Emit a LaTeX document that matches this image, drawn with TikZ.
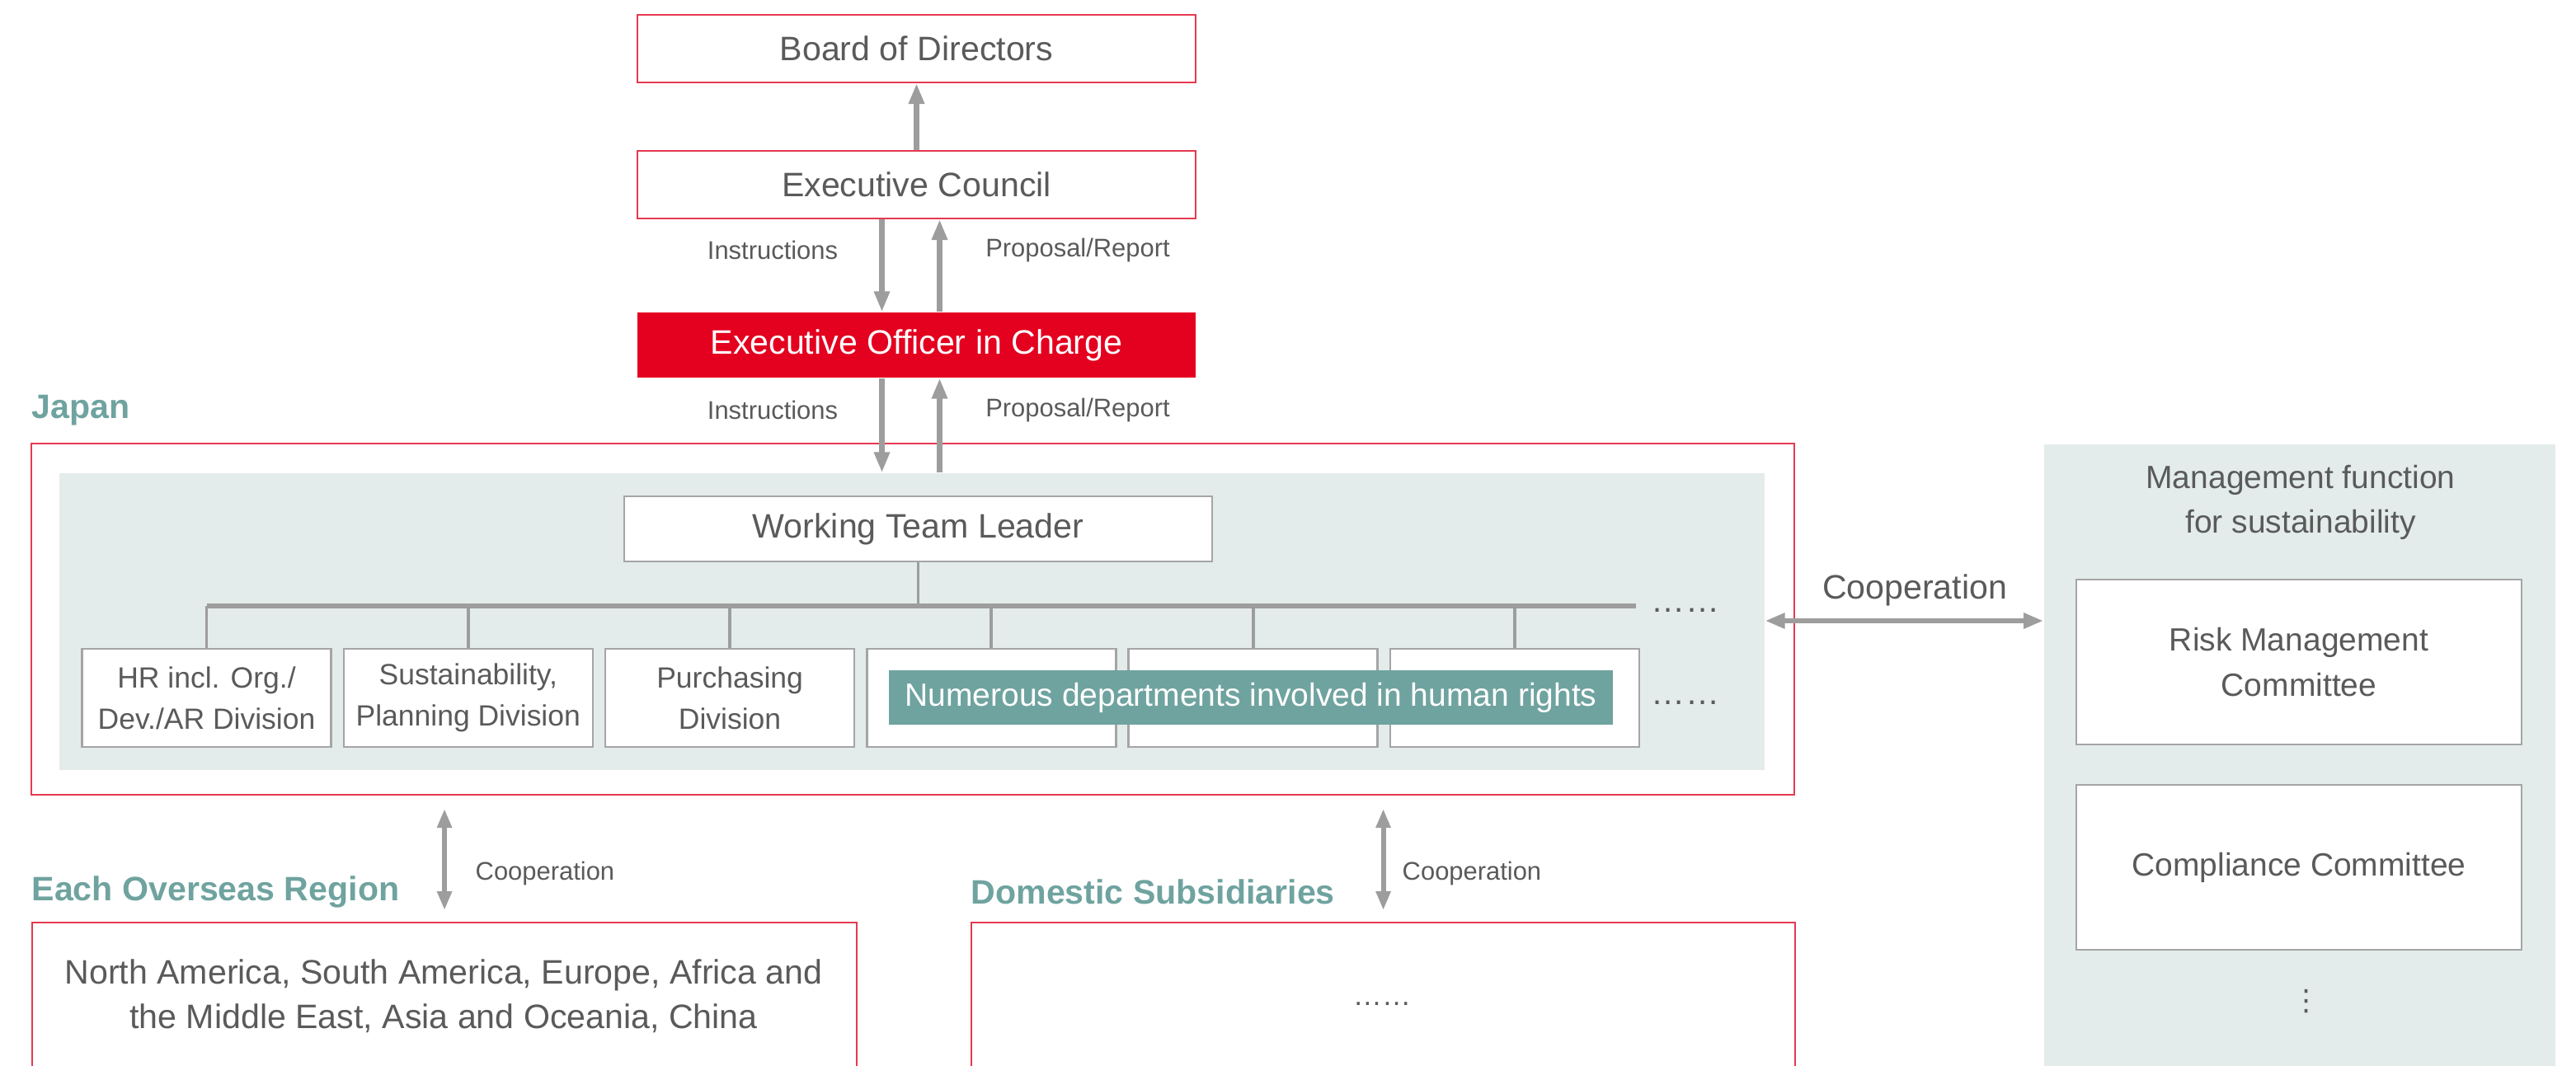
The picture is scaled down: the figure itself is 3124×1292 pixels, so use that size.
\documentclass[tikz,border=0pt]{standalone}
\usepackage{fontspec}
\setmainfont{Liberation Sans}
\newfontfamily\dvs{DejaVu Sans}
\usetikzlibrary{arrows.meta}
\definecolor{redfill}{HTML}{E4001F}
\definecolor{redline}{HTML}{E53950}
\definecolor{panel}{HTML}{E3ECEB}
\definecolor{teal}{HTML}{6FA39F}
\definecolor{arrgray}{HTML}{9D9D9D}
\definecolor{boxgray}{HTML}{A5A5A5}
\definecolor{txt}{HTML}{5A5A5A}
\newcommand\fmain{\fontsize{11.7pt}{15.4pt}\selectfont}
\newcommand\fdiv{\fontsize{10.1pt}{14.2pt}\selectfont}
\newcommand\fmid{\fontsize{11.1pt}{15.4pt}\selectfont}
\newcommand\fsmall{\fontsize{8.8pt}{11pt}\selectfont}
\begin{document}
\begin{tikzpicture}[x=0.1mm,y=-0.1mm,
  redbox/.style={draw=redline,line width=0.6pt,fill=white,text=txt,inner sep=0pt,align=center,font=\fmain},
  graybox/.style={draw=boxgray,line width=0.7pt,fill=white,text=txt,inner sep=0pt,align=center},
  arr/.style={draw=arrgray,line width=1.9pt,-{Triangle[length=2.5mm,width=1.8mm]}},
  arrtwo/.style={draw=arrgray,line width=1.8pt,{Triangle[length=2.4mm,width=1.8mm]}-{Triangle[length=2.4mm,width=1.8mm]}},
  arrthin/.style={draw=arrgray,line width=1.7pt,{Triangle[length=2.3mm,width=1.7mm]}-{Triangle[length=2.3mm,width=1.7mm]}},
  lbl/.style={text=txt,font=\fsmall,inner sep=0pt},
  head/.style={text=teal,font=\fmain\bfseries,inner sep=0pt,anchor=west},
  bus/.style={draw=arrgray,line width=1.7pt},
  drop/.style={draw=arrgray,line width=1.1pt},
  dots/.style={text=txt,font=\fmain,inner sep=0pt,anchor=base}
]
\useasboundingbox (0,0) rectangle (3124,1292);

% top chain
\node[redbox,minimum width=677*0.1mm,minimum height=82*0.1mm] (bod) at (1111.5,59) {Board of Directors};
\node[redbox,minimum width=677*0.1mm,minimum height=82*0.1mm] (ec) at (1111.5,224) {Executive Council};
\node[fill=redfill,text=white,font=\fmain,inner sep=0pt,minimum width=677*0.1mm,minimum height=79*0.1mm] (eo) at (1111.5,418.5) {Executive Officer in Charge};

\draw[arr] (ec.north) -- (bod.south);
\draw[arr] ([xshift=-4.2mm]ec.south) -- ([xshift=-4.2mm]eo.north);
\draw[arr] ([xshift=2.8mm]eo.north) -- ([xshift=2.8mm]ec.south);
\node[lbl] (l1) at (937,303) {Instructions};
\node[lbl] (l2) at (1307,303) {Proposal/Report};

% Japan
\node[head] (jplbl) at (38,498) {Japan};
\node[draw=redline,line width=0.6pt,fill=white,inner sep=0pt,minimum width=2138*0.1mm,minimum height=426*0.1mm] (jp) at (1107,751) {};
\node[fill=panel,inner sep=0pt,minimum width=2068*0.1mm,minimum height=360*0.1mm] (jin) at (1106,754) {};

\draw[arr] ([xshift=-4.2mm]eo.south) -- ([xshift=-4.2mm]eo.south |- jin.north);
\draw[arr] ([xshift=2.8mm]eo.south |- jin.north) -- ([xshift=2.8mm]eo.south);
\node[lbl] (l3) at (937,497) {Instructions};
\node[lbl] (l4) at (1307,497) {Proposal/Report};

\node[graybox,font=\fmain,minimum width=713*0.1mm,minimum height=79*0.1mm] (wtl) at (1113.5,641.5) {Working Team Leader};

\coordinate (busend) at (1984,735);
\foreach \i/\x in {1/250.5,2/567.8,3/885.1,4/1202.4,5/1519.7,6/1837}{
  \node[graybox,font=\fdiv,minimum width=302*0.1mm,minimum height=119*0.1mm] (d\i) at (\x,846.5) {};
}
\node[font=\fdiv,text=txt,align=center,inner sep=0pt] at (d1) {HR incl. Org./\\Dev./AR Division};
\node[font=\fdiv,text=txt,align=center,inner sep=0pt] at (d2) {Sustainability,\\Planning Division};
\node[font=\fdiv,text=txt,align=center,inner sep=0pt] at (d3) {Purchasing\\Division};

\draw[drop] (wtl.south) -- (wtl.south |- busend);
\foreach \i in {1,...,6}{\draw[drop] (d\i.north) -- (d\i.north |- busend);}
\draw[bus] (d1.north |- busend) -- (busend);
\node[dots] (dt1) at (2044,742) {……};
\node[dots] (dt2) at (2044,854) {……};

\node[fill=teal,text=white,font=\fmid,inner sep=0pt,minimum width=878*0.1mm,minimum height=66*0.1mm] (num) at (1517,846) {Numerous departments involved in human rights};

% right panel
\node[fill=panel,inner sep=0pt,minimum width=620*0.1mm,minimum height=780*0.1mm,anchor=north west] (mg) at (2478,538) {};
\node[text=txt,font=\fmid,align=center,inner sep=0pt] (mgt) at (2790,609) {Management function\\for sustainability};
\node[graybox,font=\fmid,minimum width=540*0.1mm,minimum height=200*0.1mm] (risk) at (2788,803) {Risk Management\\Committee};
\node[graybox,font=\fmid,minimum width=540*0.1mm,minimum height=200*0.1mm] (comp) at (2788,1052) {Compliance Committee};
\node[text=txt,font=\dvs\fontsize{10pt}{12pt}\selectfont,inner sep=0pt] (vd) at (2797,1215) {⋮};

\draw[arrtwo] (jin.east |- 0,753) -- (mg.west |- 0,753);
\node[text=txt,font=\fmain,inner sep=0pt] (coop) at (2322,716) {Cooperation};

% bottom
\node[head] (ovlbl) at (38,1082) {Each Overseas Region};
\node[head] (dslbl) at (1177,1082) {Domestic Subsidiaries};
\node[redbox,minimum width=1000*0.1mm,minimum height=200*0.1mm,anchor=north west] (ov) at (38,1118) {};
\node[text=txt,font=\fmain,align=center,inner sep=0pt] (ovt) at (538,1208) {North America, South America, Europe, Africa and\\the Middle East, Asia and Oceania, China};
\node[redbox,minimum width=999*0.1mm,minimum height=200*0.1mm,anchor=north west] (ds) at (1177,1118) {};
\node[dots,font=\fsmall\fontsize{10pt}{12pt}\selectfont] (dt3) at (1676,1219) {……};

\draw[arrthin,shorten <=1.6mm,shorten >=1.4mm] (ov.north |- jp.south) -- (ov.north);
\draw[arrthin,shorten <=1.6mm,shorten >=1.4mm] (ds.north |- jp.south) -- (ds.north);
\node[lbl,anchor=west] (c1) at (576,1059) {Cooperation};
\node[lbl,anchor=west] (c2) at (1700,1059) {Cooperation};
\end{tikzpicture}
\end{document}
